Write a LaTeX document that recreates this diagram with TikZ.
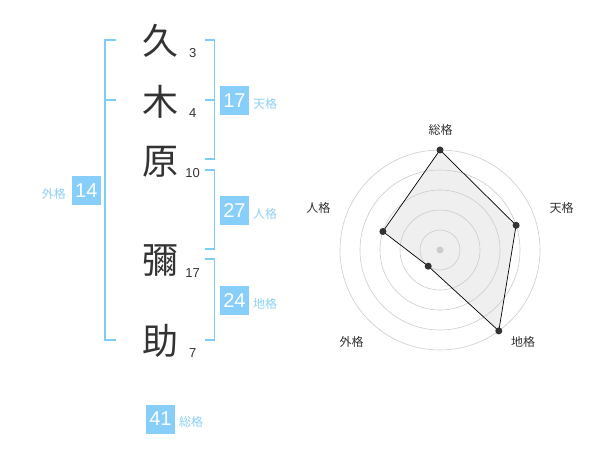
\documentclass[tikz,border=0pt]{standalone}
\usepackage{fontspec}
\setmainfont{Liberation Sans}
\newfontfamily\cjk{Noto Sans CJK JP}
\definecolor{brk}{HTML}{7FCCF6}
\definecolor{boxc}{HTML}{87CEFA}
\definecolor{lbl}{HTML}{8DD0F6}
\definecolor{ink}{HTML}{333333}
\definecolor{ring}{HTML}{CCCCCC}
\definecolor{area}{HTML}{EFEFEF}
\tikzset{
  kanji/.style={font=\cjk\fontsize{36}{36}\selectfont, text=ink, inner sep=0pt},
  stroke/.style={font=\fontsize{13}{13}\selectfont, text=ink, inner sep=0pt},
  valbox/.style={fill=boxc, text=white, minimum width=29pt, minimum height=29pt, inner sep=0pt, font=\fontsize{20}{20}\selectfont},
  vallbl/.style={text=lbl, font=\cjk\fontsize{12}{12}\selectfont, inner sep=0pt},
  bracket/.style={draw=brk, line width=1.6pt},
  radlbl/.style={text=ink, font=\cjk\fontsize{12}{12}\selectfont, inner sep=0pt},
  ringc/.style={draw=ring, line width=0.6pt},
  dot/.style={circle, fill=ink, minimum size=7pt, inner sep=0pt},
}
\begin{document}
\begin{tikzpicture}[x=1pt,y=-1pt]
\useasboundingbox (0,0) rectangle (600,470);
% name characters
\node[kanji] (k1) at (160,41) {久};
\node[kanji] (k2) at (160,102) {木};
\node[kanji] (k3) at (160,162) {原};
\node[kanji] (k4) at (160,261) {彌};
\node[kanji] (k5) at (160,341) {助};
% stroke counts
\node[stroke] (s1) at (192.7,52.7) {3};
\node[stroke] (s2) at (192.7,113.3) {4};
\node[stroke] (s3) at (192.7,173.3) {10};
\node[stroke] (s4) at (192.7,272.7) {17};
\node[stroke] (s5) at (192.7,352.7) {7};
% brackets
\draw[bracket] (116,40) -- (105,40) -- (105,340) -- (116,340);
\draw[bracket] (105,100) -- (116,100);
\draw[bracket] (205,40) -- (214.3,40) -- (214.3,159.3) -- (205,159.3);
\draw[bracket] (205,100) -- (214.3,100);
\draw[bracket] (205,170) -- (214.3,170) -- (214.3,249.3) -- (205,249.3);
\draw[bracket] (205,259.3) -- (214.3,259.3) -- (214.3,340) -- (205,340);
% value boxes
\node[valbox] (ten) at (234.5,100.5) {17};
\node[vallbl, anchor=west] (tenl) at (253,104) {天格};
\node[valbox] (jin) at (234.5,210.5) {27};
\node[vallbl, anchor=west] (jinl) at (253,214) {人格};
\node[valbox] (chi) at (234.5,300.5) {24};
\node[vallbl, anchor=west] (chil) at (253,304) {地格};
\node[valbox] (gai) at (86.3,190.5) {14};
\node[vallbl, anchor=east] (gail) at (66,194) {外格};
\node[valbox] (sou) at (160.5,419) {41};
\node[vallbl, anchor=west] (soul) at (179,422) {総格};
% radar chart
\coordinate (C) at (440,250);
\coordinate (p1) at (440,150);
\coordinate (p2) at (516.1,225.3);
\coordinate (p3) at (498.8,330.9);
\coordinate (p4) at (428.2,266.2);
\coordinate (p5) at (382.9,231.5);
\fill[area] (p1) -- (p2) -- (p3) -- (p4) -- (p5) -- cycle;
\foreach \r in {20,40,60,80,100} \draw[ringc] (C) circle[radius=\r];
\fill[ring] (C) circle[radius=3.5];
\draw[black, line width=0.7pt] (p1) -- (p2) -- (p3) -- (p4) -- (p5) -- cycle;
\node[dot] (d1) at (p1) {};
\node[dot] (d2) at (p2) {};
\node[dot] (d3) at (p3) {};
\node[dot] (d4) at (p4) {};
\node[dot] (d5) at (p5) {};
\node[radlbl] (r1) at (440.7,130) {総格};
\node[radlbl] (r2) at (561.7,208.3) {天格};
\node[radlbl] (r3) at (523,341.7) {地格};
\node[radlbl] (r4) at (351.7,341.7) {外格};
\node[radlbl] (r5) at (318.3,208.3) {人格};
\end{tikzpicture}
\end{document}
